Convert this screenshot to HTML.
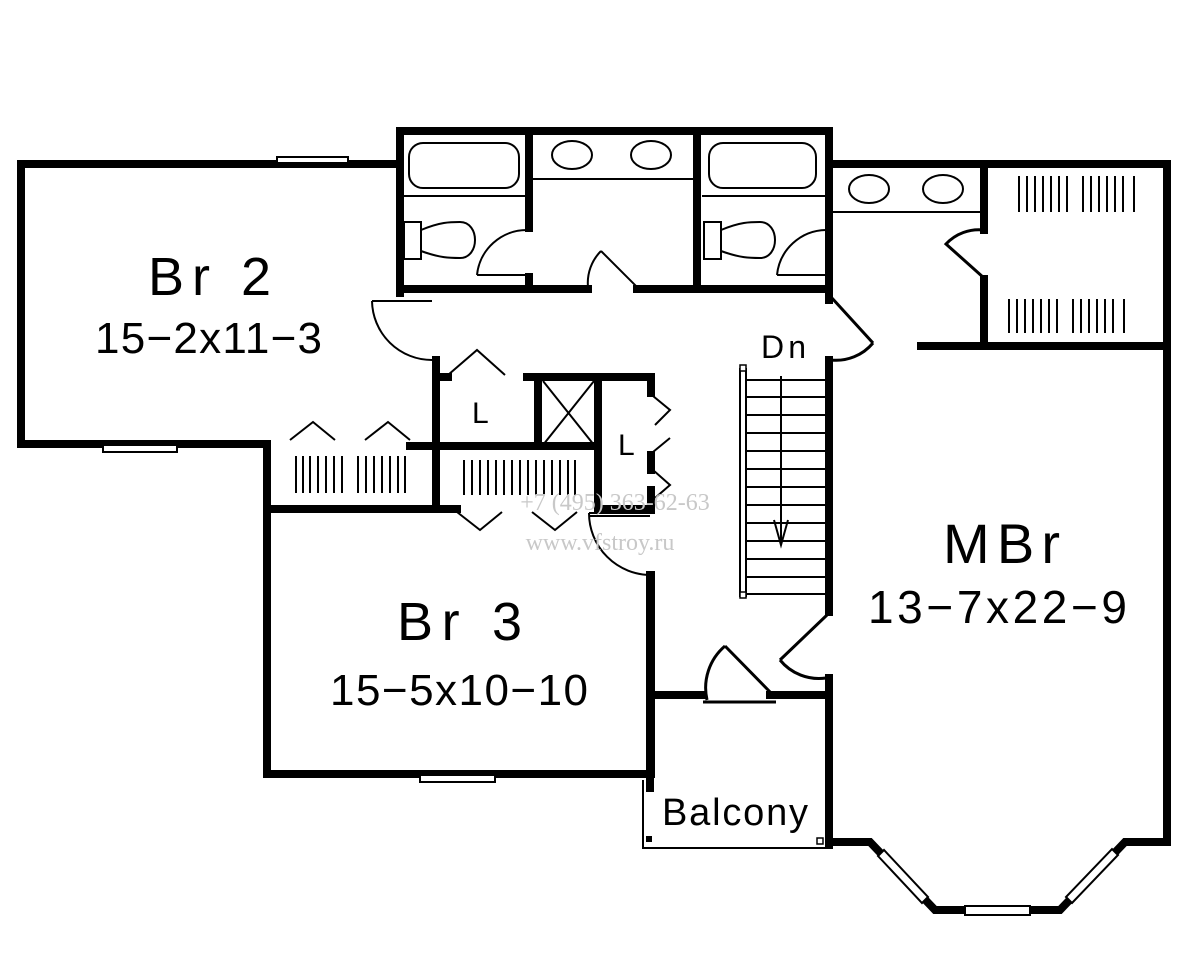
<!DOCTYPE html>
<html><head><meta charset="utf-8"><style>html,body{margin:0;padding:0;background:#fff}svg{display:block}</style></head>
<body>
<svg width="1200" height="972" viewBox="0 0 1200 972" xmlns="http://www.w3.org/2000/svg">
<g stroke="#000" stroke-width="8" fill="none" stroke-linecap="square">
<path d="M398,164 H21 V444 H267"/>
<path d="M267,444 V774 H651 V575"/>
<path d="M267,509 H440"/>
<path d="M400,131 V293 M400,131 H829 M400,289 H588 M637,289 H829 M529,131 V228 M529,277 V289 M697,131 V289 M829,131 V300"/>
<path d="M829,164 H1167 V842 H1125 L1060,910 H935 L870,842 H832"/>
<path d="M984,164 V230 M984,279 V346 M921,346 H1167"/>
<path d="M829,360 V612 M829,678 V845"/>
<path d="M650,575 V788 M650,695 H703 M770,695 H828"/>
<path d="M436,360 V509 M436,377 H448"/>
<path d="M527,377 H651 V393 M538,377 V446 M598,377 V509 M410,446 H598"/>
<path d="M651,455 V470 M651,490 V510 M598,509 H651"/>
<path d="M440,509 H457"/>
</g>
<g stroke="#000" stroke-width="2" fill="none">
<rect x="277" y="157" width="71" height="6" fill="#fff"/>
<rect x="103" y="445" width="74" height="7" fill="#fff"/>
<rect x="420" y="775" width="75" height="7" fill="#fff"/>
<rect x="965" y="906" width="65" height="9" fill="#fff"/>
<polygon points="878,856 922,903 928,897 884,850" fill="#fff"/>
<polygon points="1072,903 1118,855 1112,849 1066,897" fill="#fff"/>
<rect x="409" y="143" width="110" height="45" rx="14"/>
<path d="M404,196 H526"/>
<rect x="404" y="222" width="17" height="37"/>
<path d="M421,230 C440,222 450,222 460,222 C480,222 480,258 460,258 C450,258 440,258 421,251"/>
<path d="M477,275 H527 M477,275 A50,50 0 0 1 527,230"/>
<path d="M533,179 H694"/>
<ellipse cx="572" cy="155" rx="20" ry="14"/>
<ellipse cx="651" cy="155" rx="20" ry="14"/>
<path d="M637,287 L601,251 M601,251 A45,45 0 0 0 588,287"/>
<rect x="709" y="143" width="107" height="45" rx="14"/>
<path d="M702,196 H826"/>
<rect x="704" y="222" width="17" height="37"/>
<path d="M721,230 C740,222 750,222 760,222 C780,222 780,258 760,258 C750,258 740,258 721,251"/>
<path d="M777,275 H826 M777,275 A50,50 0 0 1 826,230"/>
<path d="M832,212 H981"/>
<ellipse cx="869" cy="189" rx="20" ry="14"/>
<ellipse cx="943" cy="189" rx="20" ry="14"/>
<path d="M984,278 L946,244 A45,45 0 0 1 984,230" stroke-width="3"/>
<path d="M831,297 L873,343 M873,343 A48,48 0 0 1 831,360" stroke-width="3"/>
<path d="M372,301 H432 M372,301 A60,60 0 0 0 432,360"/>
<path d="M290,440 L313,422 L335,440 M365,440 L388,422 L410,440"/>
<path d="M448,375 L477,350 L505,375"/>
<path d="M653,396 L670,410 L655,425 M653,452 L670,438 M653,470 L670,485 L655,498"/>
<path d="M457,512 L480,530 L502,512 M532,512 L555,530 L577,512"/>
<path d="M543,381 L594,445 M594,381 L543,445"/>
<path d="M589,513 H650 M589,516 H650 M589,513 A62,62 0 0 0 651,575"/>
<path d="M827,615 L780,660 M780,660 A50,50 0 0 0 826,678" stroke-width="3"/>
<path d="M773,695 L725,646 M725,646 A55,55 0 0 0 707,700 M703,702 H776" stroke-width="3"/>
<path d="M643,780 V848 H828"/>
<path d="M740,368 V597 M746,368 V597"/>
<path d="M746,380 H827 M746,397 H827 M746,415 H827 M746,433 H827 M746,451 H827 M746,469 H827 M746,487 H827 M746,505 H827 M746,523 H827 M746,541 H827 M746,559 H827 M746,577 H827 M746,594 H827"/>
<path d="M781,376 V545 M774,520 L781,545 L788,520"/>
</g>
<g stroke="#000" stroke-width="2">
<path d="M296,456 V493 M303,456 V493 M310,456 V493 M318,456 V493 M326,456 V493 M334,456 V493 M342,456 V493 M358,456 V493 M366,456 V493 M374,456 V493 M382,456 V493 M390,456 V493 M398,456 V493 M405,456 V493"/>
<path d="M464,460 V495 M472,460 V495 M480,460 V495 M488,460 V495 M496,460 V495 M504,460 V495 M512,460 V495 M520,460 V495 M528,460 V495 M536,460 V495 M544,460 V495 M552,460 V495 M560,460 V495 M568,460 V495 M575,460 V495"/>
<path d="M1019,176 V212 M1027,176 V212 M1035,176 V212 M1043,176 V212 M1051,176 V212 M1059,176 V212 M1067,176 V212 M1083,176 V212 M1091,176 V212 M1099,176 V212 M1107,176 V212 M1115,176 V212 M1123,176 V212 M1134,176 V212"/>
<path d="M1009,299 V333 M1017,299 V333 M1025,299 V333 M1033,299 V333 M1041,299 V333 M1049,299 V333 M1057,299 V333 M1073,299 V333 M1081,299 V333 M1089,299 V333 M1097,299 V333 M1105,299 V333 M1113,299 V333 M1124,299 V333"/>
</g>
<rect x="740" y="365" width="6" height="6" fill="#fff" stroke="#000" stroke-width="1.5"/>
<rect x="740" y="592" width="6" height="6" fill="#fff" stroke="#000" stroke-width="1.5"/>
<rect x="646" y="836" width="6" height="6" fill="#000"/>
<rect x="817" y="838" width="6" height="6" fill="#fff" stroke="#000" stroke-width="1.5"/>
<g font-family="Liberation Sans, sans-serif" fill="#000">
<text x="148" y="295" font-size="54" textLength="123" lengthAdjust="spacing">Br 2</text>
<text x="95" y="353" font-size="44" textLength="227" lengthAdjust="spacing">15−2x11−3</text>
<text x="397" y="640" font-size="54" textLength="125" lengthAdjust="spacing">Br 3</text>
<text x="330" y="705" font-size="44" textLength="258" lengthAdjust="spacing">15−5x10−10</text>
<text x="943" y="563" font-size="56" textLength="117" lengthAdjust="spacing">MBr</text>
<text x="868" y="623" font-size="46" textLength="259" lengthAdjust="spacing">13−7x22−9</text>
<text x="662" y="825" font-size="38" textLength="146" lengthAdjust="spacing">Balcony</text>
<text x="761" y="358" font-size="32" textLength="45" lengthAdjust="spacing">Dn</text>
<text x="472" y="423" font-size="30">L</text>
<text x="618" y="455" font-size="30">L</text>
</g>
<g font-family="Liberation Serif, serif" fill="#c8c8c8" text-anchor="middle">
<text x="615" y="510" font-size="24">+7 (495) 363-62-63</text>
<text x="600" y="550" font-size="24">www.vfstroy.ru</text>
</g>
</svg>
</body></html>
